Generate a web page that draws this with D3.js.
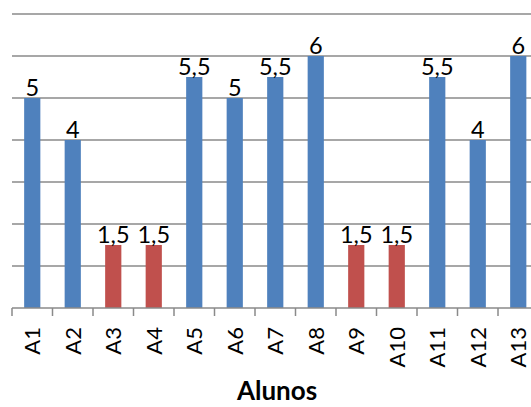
<!DOCTYPE html>
<html>
<head>
<meta charset="utf-8">
<script src="https://cdn.jsdelivr.net/npm/d3@7"></script>
<style>
  html, body { margin: 0; padding: 0; background: #fff; }
  svg { display: block; }
</style>
</head>
<body>
<svg id="chart" width="531" height="407"></svg>
<script>
const categories = ["A1","A2","A3","A4","A5","A6","A7","A8","A9","A10","A11","A12","A13"];
const values = [5, 4, 1.5, 1.5, 5.5, 5, 5.5, 6, 1.5, 1.5, 5.5, 4, 6];
const valueLabels = ["5","4","1,5","1,5","5,5","5","5,5","6","1,5","1,5","5,5","4","6"];
const gridTicks = [0, 1, 2, 3, 4, 5, 6, 7];
const axisTitle = "Alunos";

const svg = d3.select("#chart");
const font = "Lato, 'Open Sans', sans-serif";

const x = d3.scaleBand().domain(categories).range([12, 538.5]).padding(0);
const y = d3.scaleLinear().domain([0, 7]).range([308, 14]);
const colorFor = v => v < 3 ? "#C0504D" : "#4F81BD";

// gridlines
svg.append("g").selectAll("line").data(gridTicks.filter(t => t > 0)).join("line")
  .attr("x1", 12).attr("x2", 531)
  .attr("y1", d => y(d)).attr("y2", d => y(d))
  .attr("stroke", "#8a8a8a").attr("stroke-width", 1.5);

// bars
const bw = x.bandwidth() * 0.4;
svg.append("g").selectAll("rect").data(categories).join("rect")
  .attr("x", (d) => x(d) + (x.bandwidth() - bw) / 2)
  .attr("width", bw)
  .attr("y", (d, i) => y(values[i]))
  .attr("height", (d, i) => y(0) - y(values[i]))
  .attr("fill", (d, i) => colorFor(values[i]));

// x axis
const xAxis = d3.axisBottom(x).tickSize(0).tickFormat("");
const gx = svg.append("g").attr("transform", `translate(0,${y(0)})`).call(xAxis);
gx.select(".domain").attr("stroke", "#8a8a8a").attr("stroke-width", 1.5)
  .attr("d", "M12,0H531");
// tick marks at band edges
const edges = categories.map(c => x(c)).concat([x.range()[1]]);
svg.append("g").selectAll("line").data(edges).join("line")
  .attr("x1", d => d).attr("x2", d => d)
  .attr("y1", y(0)).attr("y2", y(0) + 8)
  .attr("stroke", "#8a8a8a").attr("stroke-width", 1.5);

// tick labels
svg.append("g").selectAll("text").data(categories).join("text")
  .attr("transform", d => `translate(${x(d) + x.bandwidth() / 2},327) rotate(-90)`)
  .attr("text-anchor", "end")
  .attr("dy", "0.36em")
  .attr("font-family", font).attr("font-size", 22).attr("fill", "#000")
  .text(d => d);

// value labels
svg.append("g").selectAll("text").data(categories).join("text")
  .attr("x", d => x(d) + x.bandwidth() / 2)
  .attr("y", (d, i) => y(values[i]) - 2)
  .attr("text-anchor", "middle")
  .attr("font-family", font).attr("font-size", 23.5).attr("fill", "#000")
  .text((d, i) => valueLabels[i]);

// axis title
svg.append("text")
  .attr("x", 277).attr("y", 400)
  .attr("text-anchor", "middle")
  .attr("font-family", font).attr("font-size", 26).attr("font-weight", "bold").attr("fill", "#000")
  .text(axisTitle);
</script>
</body>
</html>
